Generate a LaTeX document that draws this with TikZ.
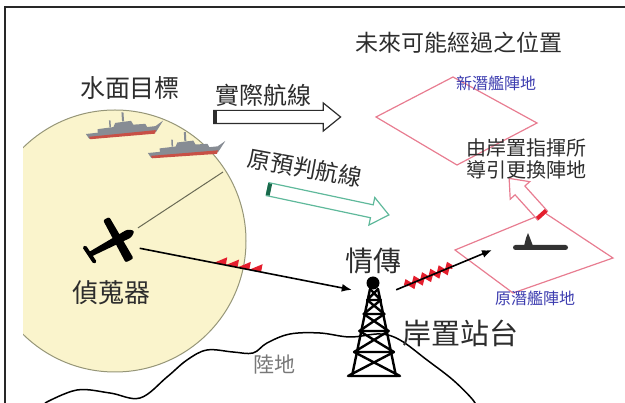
\documentclass[tikz,border=0pt]{standalone}
\usepackage{fontspec}
\newfontfamily\cjk{Noto Sans CJK TC}
\usetikzlibrary{
  arrows.meta,
  positioning,
  calc,
  shapes.arrows,
  decorations.pathmorphing
}
\definecolor{navSea}{RGB}{250,244,204}
\definecolor{navRim}{RGB}{150,150,120}
\definecolor{navInk}{RGB}{45,45,45}
\definecolor{navLand}{RGB}{120,120,120}
\definecolor{navBlue}{RGB}{60,60,175}
\definecolor{navPink}{RGB}{232,125,145}
\definecolor{navGreen}{RGB}{95,185,155}
\definecolor{navDeep}{RGB}{25,105,75}
\definecolor{navRed}{RGB}{228,30,45}
\definecolor{navShip}{RGB}{135,140,148}
\definecolor{navHull}{RGB}{200,80,70}
\definecolor{navSub}{RGB}{50,50,50}
\definecolor{navFrame}{RGB}{40,40,40}
\tikzset{
  navlabel/.style={
    font=\cjk,
    text=navInk,
    inner sep=0pt
  },
  navtag/.style={
    font=\cjk\fontsize{16}{16}\selectfont,
    text=navBlue,
    inner sep=0pt
  },
  navtrack/.style={
    single arrow,
    draw=navInk,
    line width=1.2pt,
    fill=white,
    inner xsep=0pt,
    inner ysep=6pt,
    single arrow head extend=7.5pt,
    single arrow tip angle=78,
    anchor=tail
  },
  tailcap/.style={
    minimum width=4pt,
    minimum height=12pt,
    inner sep=0pt
  },
  navlink/.style={
    -{Latex[length=10pt,width=8pt]},
    line width=1.6pt,
    draw=black
  },
  navzone/.style={
    draw=navPink,
    line width=1.2pt
  },
  towerline/.style={
    line width=2.4pt,
    line cap=round
  },
  warship/.pic={
    % hull with raised bow, red boot topping
    \fill[navShip] (0,-2) -- (70,-5) -- (78,-10) -- (70,1) -- (3,3) -- cycle;
    \fill[navHull] (3,1) -- (70,-1) -- (69,2.5) -- (4,3.5) -- cycle;
    % superstructure and masts
    \fill[navShip] (12,-2) -- (12,-6) -- (28,-7) -- (30,-11) -- (46,-12)
      -- (48,-8) -- (60,-8) -- (62,-4) -- cycle;
    \fill[navShip] (37,-12) rectangle (39,-21);
    \fill[navShip] (24,-7) rectangle (25.5,-14);
  },
  aircraft/.pic={
    \fill[rounded corners=2.5pt] (-32,-2.5) -- (14,-4.5) -- (20,0) -- (14,4.5)
      -- (-32,2.5) -- cycle;
    \fill[rounded corners=2pt] (-3,-24) -- (4,-24) -- (6,24) -- (-3,24) -- cycle;
    \fill[rounded corners=1.5pt] (-34,-10) -- (-30,-10) -- (-28,10) -- (-32,10) -- cycle;
  }
}

\begin{document}
\begin{tikzpicture}[x=1pt, y=-1pt]
  \useasboundingbox (0,0) rectangle (625,403);
  \draw[navFrame, line width=2pt] (5,7) rectangle (640,420);

  % search area of the patrol aircraft
  \begin{scope}
    \clip (23,0) rectangle (625,403);
    \filldraw[fill=navSea, draw=navRim, line width=1pt] (115,241) circle (131);
  \end{scope}

  % coast line
  \draw[line width=1.5pt] plot[smooth, tension=0.6] coordinates {
    (45,403) (77,390) (110,393) (140,398) (167,377) (187,360) (207,350)
    (233,352) (253,353) (267,343) (290,334) (320,333) (350,337) (380,334)
    (400,340) (427,360) (453,380) (473,400) (478,410)};
  \node[navlabel, text=navLand, font=\cjk\fontsize{21}{21}\selectfont] (land) at (274,365) {陸地};

  % surface targets
  \pic[rotate=4] at (86,136) {warship};
  \pic[rotate=3] at (148,155) {warship};
  \node[navlabel, font=\cjk\fontsize{25}{25}\selectfont] (targets) at (130,88) {水面目標};

  % patrol aircraft
  \node[circle, minimum size=48pt, inner sep=0pt] (plane) at (117,240) {};
  \pic[rotate=28] at (plane) {aircraft};
  \node[navlabel, font=\cjk\fontsize{26}{26}\selectfont] (sensor) at (111,293) {偵蒐器};
  \coordinate (sweep) at (223,172);
  \draw[navRim!70!black, line width=1pt] (plane.30) -- (sweep);

  % tracks
  \node[navtrack, minimum height=127pt] (actual) at (213,117) {};
  \node[tailcap, fill=navInk] at ($(actual.tail)!2pt!(actual.tip)$) {};
  \node[navlabel, font=\cjk\fontsize{24}{24}\selectfont] (actuallbl) at (263,95) {實際航線};

  \node[navtrack, draw=navGreen, minimum height=124pt, rotate=-12] (planned) at (267,189) {};
  \node[tailcap, fill=navDeep, rotate=-12] at ($(planned.tail)!2pt!(planned.tip)$) {};
  \node[navlabel, rotate=-10.5, font=\cjk\fontsize{23}{23}\selectfont] (plannedlbl) at (305,168) {原預判航線};

  % shore relay tower
  \node[circle, fill=black, minimum size=13pt, inner sep=0pt] (relay) at (373,283) {};
  \node[minimum width=44pt, minimum height=86pt, inner sep=0pt] (mast) at (374,333) {};
  \draw[towerline] (370,289) -- (352,376) (378,289) -- (396,376);
  \foreach \ya/\yb in {289/300, 300/314, 314/331, 331/352, 352/376} {
    \pgfmathsetmacro\wa{4+(\ya-289)*0.2529}
    \pgfmathsetmacro\wb{4+(\yb-289)*0.2529}
    \draw[towerline] (374-\wa,\ya) -- (374+\wb,\yb) (374+\wa,\ya) -- (374-\wb,\yb)
      (374-\wb,\yb) -- (374+\wb,\yb);
  }
  \node[navlabel, font=\cjk\fontsize{28}{28}\selectfont, above=2pt of relay] (relaylbl) {情傳};
  \node[navlabel, font=\cjk\fontsize{29}{29}\selectfont, right=6pt of mast] (shore) {岸置站台};

  % submarine zones
  \draw[navzone] (376,117) -- (453,77) -- (537,123) -- (457,165) -- cycle;
  \draw[navzone] (455,250) -- (545,213) -- (613,258) -- (513,293) -- cycle;
  \node[navtag] (newzone) at (496,83) {新潛艦陣地};
  \node[navtag] (oldzone) at (535,298) {原潛艦陣地};
  \fill[navSub, rounded corners=2.5pt] (513,245) rectangle (568,250);
  \fill[navSub] (524,246) -- (526,238) -- (528,233) -- (530,238) -- (533,246) -- cycle;
  \coordinate (aim) at (492,250);

  \node[navtrack, draw=navPink, minimum height=50pt, single arrow head extend=6.5pt,
    rotate=132] (reroute) at (543,216) {};
  \node[tailcap, fill=navRed, rotate=132] at ($(reroute.tail)!2pt!(reroute.tip)$) {};
  \node[navlabel, align=center, font=\cjk\fontsize{20}{22}\selectfont] (command) at (526,159)
    {由岸置指揮所\\導引更換陣地};
  \node[navlabel, font=\cjk\fontsize{23}{23}\selectfont] (future) at (459,43) {未來可能經過之位置};

  % data links
  \fill[navRed, decorate, decoration={saw, amplitude=8pt, segment length=12pt}]
    ($(plane.-20)!0.35!(mast.north west)$) -- ($(plane.-20)!0.6!(mast.north west)$);
  \draw[navRed, line width=4pt, decorate, decoration={zigzag, amplitude=3pt, segment length=9pt}]
    ($(mast.north east)!0.1!(aim)$) -- ($(mast.north east)!0.58!(aim)$);
  \draw[navlink] (plane.-20) -- (mast.north west);
  \draw[navlink] (mast.north east) -- (aim);
\end{tikzpicture}
\end{document}
